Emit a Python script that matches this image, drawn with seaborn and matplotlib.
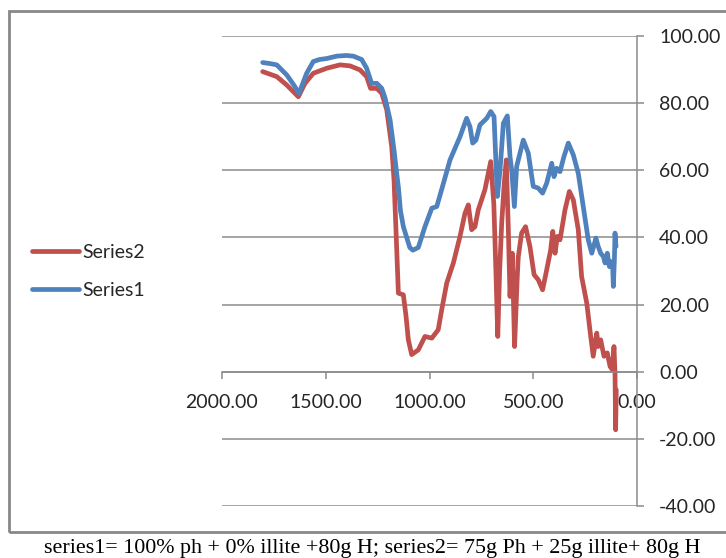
import numpy as np
import pandas as pd
import matplotlib
matplotlib.use("Agg")
import matplotlib.pyplot as plt
import seaborn as sns
from matplotlib.patches import Rectangle

# Wavenumber (x) and transmittance (y) readings for each sample
s1_x = [1804, 1770, 1736, 1688, 1655, 1629, 1610, 1592, 1560, 1530, 1495, 1447, 1400,
        1367, 1327, 1303, 1279, 1254, 1230, 1214, 1190, 1171, 1158, 1150, 1140, 1126,
        1110, 1095, 1080, 1054, 1022, 989, 965, 933, 901, 853, 821, 805, 792, 776, 757,
        724, 705, 689, 673, 660, 644, 625, 612, 604, 591, 580, 548, 524, 500, 476, 455,
        435, 411, 400, 387, 371, 352, 331, 307, 283, 259, 235, 218, 198, 187, 175, 162,
        154, 143, 133, 125, 117, 114, 109, 106, 101]
s1_y = [92.1, 91.8, 91.4, 88.4, 85.5, 82.9, 86.0, 88.9, 92.4, 93.0, 93.3, 94.0, 94.2,
        94.0, 93.0, 90.4, 85.9, 85.9, 84.4, 81.5, 75.0, 66.0, 59.0, 55.0, 48.0, 43.2,
        40.0, 37.0, 36.2, 37.0, 43.2, 48.7, 49.2, 56.1, 63.1, 70.0, 75.5, 73.0, 68.1,
        69.0, 73.5, 75.5, 77.5, 76.0, 52.2, 60.1, 74.0, 76.2, 64.1, 60.1, 49.2, 61.1,
        69.0, 65.1, 55.2, 54.7, 53.2, 56.2, 62.1, 58.1, 60.6, 59.6, 64.1, 68.1, 64.6,
        59.1, 49.2, 39.3, 35.3, 39.8, 37.3, 35.3, 34.3, 32.4, 35.3, 31.3, 32.8, 30.9,
        25.4, 33.3, 41.3, 37.3]

s2_x = [1804, 1736, 1688, 1632, 1600, 1560, 1495, 1431, 1383, 1335, 1303, 1284, 1254,
        1230, 1206, 1182, 1171, 1161, 1150, 1126, 1113, 1102, 1086, 1054, 1022, 989,
        958, 941, 917, 885, 853, 829, 813, 797, 781, 765, 733, 705, 690, 680, 671, 662,
        652, 640, 630, 620, 612, 601, 590, 577, 572, 556, 537, 516, 496, 476, 455, 435,
        416, 406, 395, 384, 371, 347, 326, 307, 283, 267, 242, 227, 211, 194, 187, 175,
        159, 143, 130, 119, 111, 106, 103, 100]
s2_y = [89.4, 87.9, 85.4, 81.9, 85.9, 88.9, 90.4, 91.4, 91.1, 89.9, 87.9, 84.4, 84.4,
        82.9, 78.0, 67.0, 57.1, 41.3, 23.4, 22.9, 16.5, 9.5, 5.1, 6.5, 10.5, 10.0,
        12.5, 18.5, 26.4, 32.4, 40.3, 47.2, 49.7, 42.3, 43.2, 48.2, 54.2, 62.6, 50.0,
        30.0, 10.5, 30.0, 44.3, 56.0, 63.1, 42.3, 22.4, 35.3, 7.5, 28.4, 34.3, 41.3,
        43.2, 37.3, 28.9, 27.4, 24.4, 30.4, 36.3, 41.8, 35.3, 40.3, 39.3, 48.2, 53.7,
        51.2, 42.3, 28.4, 20.4, 12.5, 4.6, 11.5, 7.5, 9.5, 4.6, 5.6, 1.6, 0.6, 7.5,
        -0.4, -17.3, -5.4]

series_names = ["Series2", "Series1"]
series_colors = {"Series1": "#4F81BD", "Series2": "#C0504D"}
x_ticks = [2000, 1500, 1000, 500, 0]
y_ticks = [-40, -20, 0, 20, 40, 60, 80, 100]
caption = "series1= 100% ph + 0% illite +80g H; series2= 75g Ph + 25g illite+ 80g H"

df = pd.concat([
    pd.DataFrame({"x": s1_x, "y": s1_y, "series": "Series1"}),
    pd.DataFrame({"x": s2_x, "y": s2_y, "series": "Series2"}),
], ignore_index=True)

sns.set_theme(style="white")
plt.rcParams["font.family"] = ["Lato", "DejaVu Sans"]

W, H = 726, 558
fig = plt.figure(figsize=(W / 100, H / 100), dpi=100)
ax = fig.add_axes([222 / W, 1 - 506 / H, 415 / W, 470 / H])

sns.lineplot(data=df, x="x", y="y", hue="series", hue_order=series_names,
             palette=series_colors, sort=False, estimator=None,
             linewidth=3.4, ax=ax, legend=True)
for line in ax.get_lines():
    line.set_solid_joinstyle("round")
    line.set_solid_capstyle("round")

ax.set_xlim(2000, 0)
ax.set_ylim(-40, 100)
ax.set_xticks(x_ticks)
ax.set_yticks(y_ticks)
ax.set_xticklabels([f"{v:.2f}" for v in x_ticks])
ax.set_yticklabels([f"{v:.2f}" for v in y_ticks])
ax.set_xlabel("")
ax.set_ylabel("")

grid_col = "#8C8C8C"
ax.yaxis.grid(True, color=grid_col, linewidth=1.1)
ax.xaxis.grid(False)
ax.set_axisbelow(True)

for side in ("left", "top"):
    ax.spines[side].set_visible(False)
ax.spines["bottom"].set_position(("data", 0))
ax.spines["right"].set_position(("data", 0))
for side in ("bottom", "right"):
    ax.spines[side].set_color(grid_col)
    ax.spines[side].set_linewidth(1.1)

ax.yaxis.tick_right()
ax.tick_params(axis="both", direction="out", length=5, width=1.1, color=grid_col,
               labelsize=14, labelcolor="#262626", pad=11)
ax.tick_params(axis="y", left=False, right=True)
ax.tick_params(axis="x", bottom=True, top=False)

handles, labels = ax.get_legend_handles_labels()
ax.legend_.remove()
leg = fig.legend(handles, labels, loc="center left",
                 bbox_to_anchor=(32 / W, 1 - 271.5 / H), bbox_transform=fig.transFigure,
                 frameon=False, fontsize=14, handlelength=2.4, handletextpad=0.2,
                 labelspacing=1.1, borderpad=0, borderaxespad=0,
                 labelcolor="#262626")
for h in leg.legend_handles:
    h.set_linewidth(3.4)
    h.set_solid_capstyle("round")

fig.add_artist(Rectangle((9 / W, 1 - 532 / H), 730 / W, (532 - 11) / H,
                         transform=fig.transFigure, fill=False,
                         edgecolor="#888888", linewidth=2.0))

fig.text(372 / W, 1 - 548 / H, caption, ha="center", va="center",
         fontsize=15.8, family=["Liberation Serif", "DejaVu Serif"], color="black")

fig.savefig("out.png", dpi=100)
